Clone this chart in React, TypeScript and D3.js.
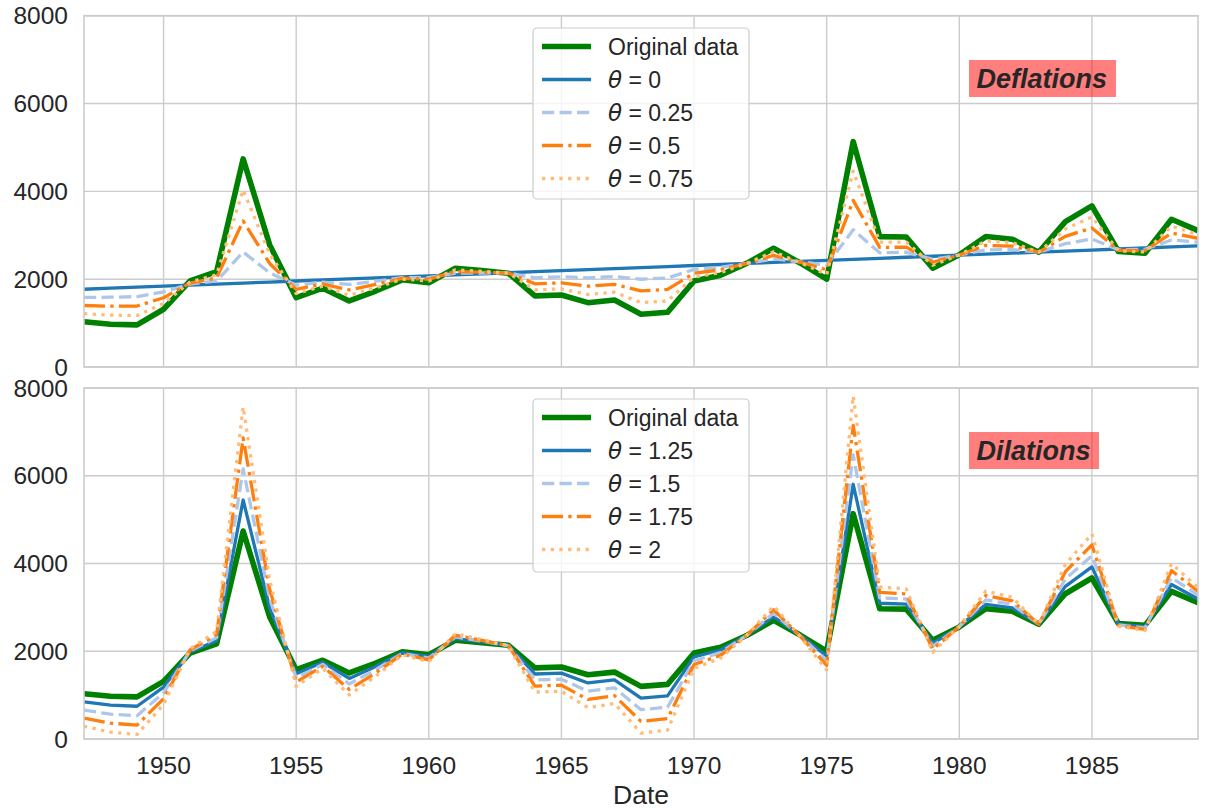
import React from "react";
import * as d3 from "d3";

// yearly values, 1947..1989
const years = [
  1947, 1948, 1949, 1950, 1951, 1952, 1953, 1954, 1955, 1956, 1957, 1958, 1959, 1960, 1961,
  1962, 1963, 1964, 1965, 1966, 1967, 1968, 1969, 1970, 1971, 1972, 1973, 1974, 1975, 1976,
  1977, 1978, 1979, 1980, 1981, 1982, 1983, 1984, 1985, 1986, 1987, 1988, 1989,
];

const original = [
  1030, 975, 960, 1315, 1960, 2170, 4740, 2780, 1580, 1795, 1505, 1730, 1985, 1920, 2250,
  2195, 2135, 1620, 1640, 1465, 1525, 1200, 1245, 1960, 2090, 2365, 2705, 2370, 2000, 5135,
  2970, 2960, 2250, 2555, 2970, 2910, 2615, 3310, 3670, 2630, 2590, 3365, 3105,
];

const theta0 = [
  1770, 1794, 1817, 1841, 1864, 1888, 1911, 1935, 1958, 1982, 2005, 2029, 2052, 2076, 2099,
  2123, 2146, 2170, 2193, 2217, 2240, 2264, 2287, 2311, 2334, 2358, 2381, 2405, 2428, 2452,
  2475, 2499, 2522, 2546, 2569, 2593, 2616, 2640, 2663, 2687, 2710, 2734, 2757,
];

const theta025 = [
  1585, 1589, 1603, 1709, 1888, 1959, 2618, 2146, 1863, 1935, 1880, 1954, 2035, 2037, 2137,
  2141, 2143, 2032, 2055, 2029, 2061, 1998, 2026, 2223, 2273, 2360, 2462, 2396, 2321, 3123,
  2599, 2614, 2454, 2548, 2669, 2672, 2616, 2808, 2915, 2673, 2680, 2892, 2844,
];

const theta05 = [
  1400, 1384, 1388, 1578, 1912, 2029, 3326, 2358, 1769, 1888, 1755, 1879, 2018, 1998, 2175,
  2159, 2140, 1895, 1916, 1841, 1882, 1732, 1766, 2135, 2212, 2362, 2543, 2387, 2214, 3794,
  2723, 2730, 2386, 2551, 2770, 2752, 2616, 2975, 3167, 2658, 2650, 3050, 2931,
];

const theta075 = [
  1215, 1180, 1174, 1446, 1936, 2100, 4033, 2569, 1674, 1842, 1630, 1805, 2002, 1959, 2212,
  2177, 2138, 1757, 1778, 1653, 1704, 1466, 1505, 2048, 2151, 2363, 2624, 2379, 2107, 4464,
  2846, 2845, 2318, 2553, 2870, 2831, 2615, 3143, 3418, 2644, 2620, 3207, 3018,
];

const theta125 = [
  845, 770, 746, 1183, 1984, 2241, 5447, 2991, 1485, 1748, 1380, 1655, 1968, 1881, 2288,
  2213, 2132, 1482, 1502, 1277, 1346, 934, 984, 1872, 2029, 2367, 2786, 2361, 1893, 5806,
  3094, 3075, 2182, 2557, 3070, 2989, 2615, 3478, 3922, 2616, 2560, 3523, 3192,
];

const theta15 = [
  660, 565, 531, 1052, 2008, 2311, 6155, 3203, 1391, 1701, 1255, 1580, 1951, 1842, 2326,
  2231, 2129, 1345, 1363, 1089, 1167, 668, 724, 1784, 1968, 2369, 2867, 2352, 1786, 6477,
  3218, 3191, 2114, 2560, 3171, 3069, 2615, 3645, 4174, 2601, 2530, 3681, 3279,
];

const theta175 = [
  475, 361, 317, 920, 2032, 2382, 6862, 3414, 1296, 1655, 1130, 1506, 1935, 1803, 2363,
  2249, 2127, 1207, 1225, 901, 989, 402, 463, 1697, 1907, 2370, 2948, 2344, 1679, 7147,
  3341, 3306, 2046, 2562, 3271, 3148, 2614, 3813, 4425, 2587, 2500, 3838, 3366,
];

const theta2 = [
  290, 156, 103, 789, 2056, 2452, 7569, 3625, 1202, 1608, 1005, 1431, 1918, 1764, 2401,
  2267, 2124, 1070, 1087, 713, 810, 136, 203, 1609, 1846, 2372, 3029, 2335, 1572, 7818,
  3465, 3421, 1978, 2564, 3371, 3227, 2614, 3980, 4677, 2573, 2470, 3996, 3453,
];

const xTicks = [1950, 1955, 1960, 1965, 1970, 1975, 1980, 1985];
const yTicks = [0, 2000, 4000, 6000, 8000];

const W = 1205;
const H = 812;
const left = 84;
const right = 1198;
const FONT = "'Liberation Sans', Arial, sans-serif";
const GRID = "#cccccc";
const INK = "#262626";

const x = d3.scaleLinear().domain([1947, 1989]).range([left, right]);

const styles = {
  orig: { color: "#008000", width: 5.6, dash: null },
  s1: { color: "#1f77b4", width: 3.3, dash: null },
  s2: { color: "#aec7e8", width: 3.3, dash: "12.2,5.3" },
  s3: { color: "#ff7f0e", width: 3.3, dash: "21,5.3,3.3,5.3" },
  s4: { color: "#ffbb78", width: 3.3, dash: "3.3,5.4" },
};

const panels = [
  {
    top: 15.7,
    bottom: 367,
    title: "Deflations",
    box: { x: 969, y: 60, w: 147, h: 37 },
    legend: { x: 533, y: 28, w: 216, h: 171 },
    series: [
      { name: "Original data", theta: null, values: original, st: styles.orig },
      { name: "0", theta: true, values: theta0, st: styles.s1 },
      { name: "0.25", theta: true, values: theta025, st: styles.s2 },
      { name: "0.5", theta: true, values: theta05, st: styles.s3 },
      { name: "0.75", theta: true, values: theta075, st: styles.s4 },
    ],
  },
  {
    top: 388,
    bottom: 739,
    title: "Dilations",
    box: { x: 969, y: 432, w: 130, h: 37 },
    legend: { x: 533, y: 399, w: 216, h: 173 },
    series: [
      { name: "Original data", theta: null, values: original, st: styles.orig },
      { name: "1.25", theta: true, values: theta125, st: styles.s1 },
      { name: "1.5", theta: true, values: theta15, st: styles.s2 },
      { name: "1.75", theta: true, values: theta175, st: styles.s3 },
      { name: "2", theta: true, values: theta2, st: styles.s4 },
    ],
  },
];

const Panel = ({ p, showX }) => {
  const y = d3.scaleLinear().domain([0, 8000]).range([p.bottom, p.top]);
  const line = d3
    .line<number>()
    .x((_, i) => x(years[i]))
    .y((d) => y(d));
  const clipId = "clip-" + p.title;
  const rowH = 33;
  return (
    <g>
      <defs>
        <clipPath id={clipId}>
          <rect x={left} y={p.top} width={right - left} height={p.bottom - p.top} />
        </clipPath>
      </defs>
      {xTicks.map((t) => (
        <line key={"gx" + t} x1={x(t)} x2={x(t)} y1={p.top} y2={p.bottom} stroke={GRID} strokeWidth={1.4} />
      ))}
      {yTicks.map((t) => (
        <line key={"gy" + t} x1={left} x2={right} y1={y(t)} y2={y(t)} stroke={GRID} strokeWidth={1.4} />
      ))}
      {yTicks.map((t) => (
        <text key={"ty" + t} x={68} y={y(t)} textAnchor="end" dominantBaseline="central" fontSize={24.5} fill={INK}>
          {t}
        </text>
      ))}
      {showX &&
        xTicks.map((t) => (
          <text key={"tx" + t} x={x(t)} y={765} textAnchor="middle" dominantBaseline="central" fontSize={24.5} fill={INK}>
            {t}
          </text>
        ))}
      <g clipPath={`url(#${clipId})`}>
        {p.series.map((s) => (
          <path
            key={s.name}
            d={line(s.values) || ""}
            fill="none"
            stroke={s.st.color}
            strokeWidth={s.st.width}
            strokeDasharray={s.st.dash || undefined}
            strokeLinejoin="round"
          />
        ))}
      </g>
      <rect x={left} y={p.top} width={right - left} height={p.bottom - p.top} fill="none" stroke={GRID} strokeWidth={1.6} />
      <rect x={p.legend.x} y={p.legend.y} width={p.legend.w} height={p.legend.h} rx={4} fill="#ffffff" fillOpacity={0.8} stroke={GRID} strokeWidth={1.2} />
      {p.series.map((s, i) => {
        const cy = p.legend.y + 18.5 + i * rowH;
        return (
          <g key={"lg" + s.name}>
            <line
              x1={542}
              x2={591}
              y1={cy}
              y2={cy}
              stroke={s.st.color}
              strokeWidth={s.st.width}
              strokeDasharray={s.st.dash || undefined}
            />
            <text x={608} y={cy} dominantBaseline="central" fontSize={23} fill={INK}>
              {s.theta ? (
                <>
                  <tspan fontStyle="italic" fontFamily="'DejaVu Sans', sans-serif">θ</tspan>
                  <tspan>{" = " + s.name}</tspan>
                </>
              ) : (
                s.name
              )}
            </text>
          </g>
        );
      })}
      <rect x={p.box.x} y={p.box.y} width={p.box.w} height={p.box.h} fill="#ff0000" fillOpacity={0.5} />
      <text
        x={p.box.x + 7.5}
        y={p.box.y + p.box.h / 2}
        dominantBaseline="central"
        fontSize={27}
        fontWeight="bold"
        fontStyle="italic"
        fill={INK}
      >
        {p.title}
      </text>
    </g>
  );
};

export default function App() {
  return (
    <svg
      width={W}
      height={H}
      style={{ position: "absolute", left: 0, top: 0, background: "#fff" }}
      fontFamily={FONT}
    >
      <rect x={0} y={0} width={W} height={H} fill="#fff" />
      <Panel p={panels[0]} showX={false} />
      <Panel p={panels[1]} showX={true} />
      <text x={(left + right) / 2} y={795} textAnchor="middle" dominantBaseline="central" fontSize={26.5} fill={INK}>
        Date
      </text>
    </svg>
  );
}
